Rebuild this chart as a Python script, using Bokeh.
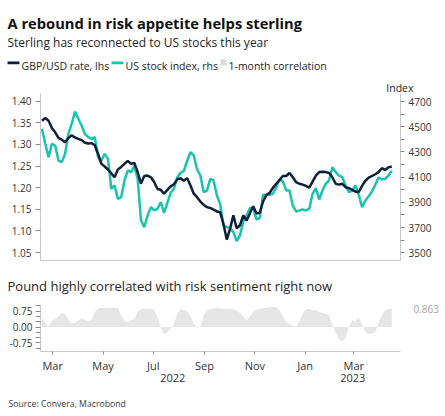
import pandas as pd
from datetime import datetime
from bokeh.plotting import figure
from bokeh.models import (Range1d, LinearAxis, DatetimeAxis, FixedTicker, Label,
                          BoxAnnotation, NumeralTickFormatter, DatetimeTickFormatter)
from bokeh.embed import file_html
from bokeh.resources import INLINE

FONT = "Open Sans"
NAVY = "#0c1f3b"
TEAL = "#18c4b0"
GRAY = "#e6e6e6"
AXIS = "#c8c8c8"
TICK = "#8c8c8c"
LABEL = "#333333"
TEXT = "#262626"

# ---------------- data (4-day sampling) ----------------
dates = pd.date_range("2022-02-16", periods=107, freq="4D")

gbp = [1.355, 1.361, 1.355, 1.338, 1.328, 1.315, 1.311, 1.305, 1.315, 1.321,
       1.316, 1.313, 1.310, 1.304, 1.302, 1.303, 1.298, 1.278, 1.255, 1.249,
       1.242, 1.233, 1.224, 1.242, 1.248, 1.255, 1.262, 1.255,
       1.257, 1.236, 1.209, 1.227, 1.228, 1.224, 1.213, 1.197, 1.195, 1.186,
       1.195, 1.203, 1.208, 1.219, 1.222, 1.216, 1.222, 1.205, 1.186, 1.178,
       1.168, 1.160, 1.155, 1.153, 1.149, 1.145, 1.143,
       1.116, 1.080, 1.105, 1.136, 1.106, 1.113, 1.136, 1.124, 1.140, 1.157,
       1.140, 1.142, 1.168, 1.183, 1.188, 1.200, 1.209, 1.218, 1.227, 1.227,
       1.234, 1.224, 1.213, 1.209, 1.207, 1.204, 1.200,
       1.214, 1.228, 1.236, 1.237, 1.236, 1.234, 1.224, 1.209, 1.207, 1.209,
       1.201, 1.199, 1.195, 1.191, 1.190, 1.204, 1.216, 1.223, 1.227, 1.231,
       1.236, 1.245, 1.241, 1.247, 1.249]

spx = [4483, 4364, 4259, 4364, 4351, 4232, 4219, 4285, 4444, 4523,
       4620, 4563, 4510, 4444, 4417, 4404, 4417, 4259, 4232, 4285,
       4245, 4008, 4034, 3928, 3941, 4074, 4153, 4140,
       4187, 4087, 3756, 3704, 3796, 3862, 3836, 3849, 3902, 3817,
       3897, 3976, 4008, 4100, 4134, 4150, 4230, 4298, 4272, 4161,
       4113, 3981, 3994, 4087, 4074, 3955, 3885,
       3717, 3704, 3696, 3664, 3593, 3638, 3749, 3796, 3854, 3854,
       3764, 3775, 3960, 3960, 3960, 3968, 4021, 4082, 4066, 3994,
       3994, 3875, 3828, 3836, 3844, 3836, 3850,
       3968, 4013, 3923, 3994, 4047, 4074, 4179, 4140, 4113, 4100,
       4034, 3981, 3994, 4034, 3960, 3862, 3915, 3949, 3986, 4039,
       4097, 4082, 4087, 4113, 4150]

corr = [0.475, 0.19, 0.03, 0.285, 0.364, 0.507, 0.665, 0.633, 0.348, 0.19,
        0.174, 0.317, 0.412, 0.348, 0.269, 0.317, 0.712, 0.871, 0.902, 0.902,
        0.918, 0.918, 0.918, 0.886, 0.554, 0.269, 0.222, 0.317, 0.38, 0.712,
        0.871, 0.871, 0.871, 0.871, 0.823, 0.475, 0.0, -0.348, -0.253, -0.079,
        0.158, 0.633, 0.823, 0.823, 0.76, 0.507, 0.158, -0.03, 0.03, 0.554,
        0.79, 0.855, 0.886, 0.9, 0.9,
        0.87, 0.87, 0.855, 0.839, 0.79, 0.665, 0.507, 0.317, 0.475, 0.744,
        0.79, 0.855, 0.886, 0.918, 0.934, 0.95, 0.934, 0.79, 0.475, 0.237,
        0.158, 0.063, 0.0, 0.285, 0.633, 0.839, 0.871, 0.79, 0.79, 0.712,
        0.665, 0.633, 0.554, 0.079, -0.285, -0.60, -0.68, -0.554, 0.0, 0.317,
        0.285, 0.475, 0.127, -0.237, -0.332, -0.317, -0.237, 0.19, 0.554, 0.79,
        0.85, 0.863]

month_ticks = ["2022-03-01", "2022-05-01", "2022-07-01", "2022-09-01",
               "2022-11-01", "2023-01-01", "2023-03-01"]
years = [2022, 2023]
left_ticks = [1.05, 1.10, 1.15, 1.20, 1.25, 1.30, 1.35, 1.40]
right_ticks = [3500, 3700, 3900, 4100, 4300, 4500, 4700]
right_minor = [3600, 3800, 4000, 4200, 4400, 4600]
corr_ticks = [-0.75, 0.0, 0.75]
corr_minor = [-1.0, -0.5, -0.25, 0.25, 0.5, 1.0]

title = "A rebound in risk appetite helps sterling"
subtitle = "Sterling has reconnected to US stocks this year"
subtitle2 = "Pound highly correlated with risk sentiment right now"
source = "Source: Convera, Macrobond"
legend_items = ["GBP/USD rate, lhs", "US stock index, rhs", "1-month correlation"]
index_label = "Index"

# ---------------- layout (page pixels; the canvas is the whole page) ----------------
W, H = 445, 416
PL, PR = 40, 400                 # left / right edge of the plotting area
TOP_T, TOP_B = 93, 260           # upper panel
BOT_T, BOT_B = 305, 351          # lower panel
X0 = datetime(2022, 2, 14, 5)
X1 = datetime(2023, 4, 26, 14)

# pixel calibration of each scale: (value, pixel), (value, pixel)
CAL_GBP = ((1.40, 100.7), (1.05, 252.0))
CAL_IDX = ((4700, 101.0), (3500, 252.3))
CAL_COR = ((0.75, 310.7), (-0.75, 342.3))


def val(cal, pix):
    (v1, p1), (v2, p2) = cal
    return v1 + (pix - p1) * (v2 - v1) / (p2 - p1)


def yrange(cal):
    return Range1d(val(cal, H), val(cal, 0))


def ms(d):
    return pd.Timestamp(d).value / 1e6


dpp = (ms(X1) - ms(X0)) / (PR - PL)
xr = Range1d(ms(X0) - PL * dpp, ms(X1) + (W - PR) * dpp)


def all_fmt(f):
    return DatetimeTickFormatter(microseconds=f, milliseconds=f, seconds=f, minsec=f,
                                 minutes=f, hourmin=f, hours=f, days=f, months=f, years=f)


p = figure(width=W, height=H, x_axis_type="datetime", x_range=xr, y_range=yrange(CAL_GBP),
           x_axis_location=None, y_axis_location=None, output_backend="svg",
           toolbar_location=None, min_border=0, title=None)
p.grid.visible = False
p.outline_line_color = None
p.extra_y_ranges = {"idx": yrange(CAL_IDX), "corr": yrange(CAL_COR), "py": Range1d(H, 0)}
p.extra_x_ranges = {"px": Range1d(0, W)}


def style_axis(ax, size="10px"):
    ax.axis_line_color = AXIS
    ax.major_tick_line_color = TICK
    ax.minor_tick_line_color = TICK
    ax.major_tick_in = 0
    ax.minor_tick_in = 0
    ax.major_label_text_font = FONT
    ax.major_label_text_font_size = size
    ax.major_label_text_color = LABEL


# ---- lhs (GBP) ----
ly = LinearAxis(fixed_location=ms(X0), ticker=FixedTicker(ticks=left_ticks),
                formatter=NumeralTickFormatter(format="0.00"),
                bounds=(val(CAL_GBP, TOP_B), val(CAL_GBP, TOP_T)))
style_axis(ly)
ly.minor_tick_line_color = None
ly.major_tick_out = 5
ly.major_label_standoff = 4
p.add_layout(ly, "left")

# ---- rhs (stock index) ----
ry = LinearAxis(y_range_name="idx", fixed_location=ms(X1),
                ticker=FixedTicker(ticks=right_ticks, minor_ticks=right_minor),
                bounds=(val(CAL_IDX, TOP_B), val(CAL_IDX, TOP_T)))
style_axis(ry)
ry.major_tick_out = 4
ry.minor_tick_out = 4
ry.major_label_standoff = 4
p.add_layout(ry, "right")

# ---- bottom line of the upper panel ----
tb = DatetimeAxis(fixed_location=val(CAL_GBP, TOP_B), ticker=FixedTicker(ticks=[]),
                  bounds=(ms(X0), ms(X1)))
tb.axis_line_color = AXIS
tb.major_tick_line_color = None
tb.minor_tick_line_color = None
tb.major_label_text_font_size = "0px"
p.add_layout(tb, "below")

# ---- correlation axis (lower panel) ----
cy = LinearAxis(y_range_name="corr", fixed_location=ms(X0),
                ticker=FixedTicker(ticks=corr_ticks, minor_ticks=corr_minor),
                formatter=NumeralTickFormatter(format="0.00"),
                bounds=(val(CAL_COR, BOT_B), val(CAL_COR, BOT_T)))
style_axis(cy)
cy.major_tick_out = 5
cy.minor_tick_out = 5
cy.major_label_standoff = 3
p.add_layout(cy, "left")

last = LinearAxis(y_range_name="corr", fixed_location=ms(X1),
                  ticker=FixedTicker(ticks=[corr[-1]]),
                  formatter=NumeralTickFormatter(format="0.000"))
last.axis_line_color = None
last.major_tick_line_color = None
last.minor_tick_line_color = None
last.major_tick_out = 0
last.major_label_standoff = 13
last.major_label_text_font = FONT
last.major_label_text_font_size = "10px"
last.major_label_text_color = "#a6a6a6"
p.add_layout(last, "right")

# ---- month / year axes ----
mx = DatetimeAxis(fixed_location=val(CAL_GBP, BOT_B),
                  ticker=FixedTicker(ticks=[ms(d) for d in month_ticks]),
                  formatter=all_fmt("%b"), bounds=(ms(X0), ms(X1)))
style_axis(mx, "11px")
mx.major_tick_out = 3
mx.major_label_standoff = 3
p.add_layout(mx, "below")

year_mid = []
for yr in years:
    a = max(ms(datetime(yr, 1, 1)), ms(X0))
    b = min(ms(datetime(yr + 1, 1, 1)), ms(X1))
    year_mid.append((a + b) / 2)
yx = DatetimeAxis(fixed_location=val(CAL_GBP, BOT_B), ticker=FixedTicker(ticks=year_mid),
                  formatter=all_fmt("%Y"))
yx.axis_line_color = None
yx.major_tick_line_color = None
yx.minor_tick_line_color = None
yx.major_tick_out = 0
yx.major_label_standoff = 22
yx.major_label_text_font = FONT
yx.major_label_text_font_size = "11px"
yx.major_label_text_color = LABEL
p.add_layout(yx, "below")

# ---- data marks ----
p.varea(x=dates, y1=0, y2=corr, fill_color=GRAY, y_range_name="corr")
p.line(dates, spx, y_range_name="idx", line_color=TEAL, line_width=2.5)
p.line(dates, gbp, line_color=NAVY, line_width=2.5)


# ---- texts and legend (page pixel coordinates) ----
def label(x, y, text, size, color=TEXT, style="normal", align="left"):
    p.add_layout(Label(x=x, y=y, x_range_name="px", y_range_name="py", text=text,
                       text_font=FONT, text_font_size=size, text_font_style=style,
                       text_color=color, text_baseline="alphabetic", text_align=align))


def swatch(l, r, t, b, color):
    p.add_layout(BoxAnnotation(left=l, right=r, top=t, bottom=b, x_range_name="px",
                               y_range_name="py", fill_color=color, fill_alpha=1,
                               line_color=None))


label(7, 22.7, title, "14.7px", "#111111", "bold")
label(7, 42.3, subtitle, "12px")
swatch(7, 19, 61, 63.7, NAVY)
swatch(111, 123, 61, 63.7, TEAL)
swatch(220, 226, 59, 65, "#dcdcdc")
for x, t in zip([21, 125, 228], legend_items):
    label(x, 65.7, t, "10.5px")
label(413, 87.3, index_label, "10.5px", align="right")
label(7, 285, subtitle2, "13px")
label(8, 403, source, "8.7px", "#404040")

open("out.html", "w").write(file_html(p, INLINE))
